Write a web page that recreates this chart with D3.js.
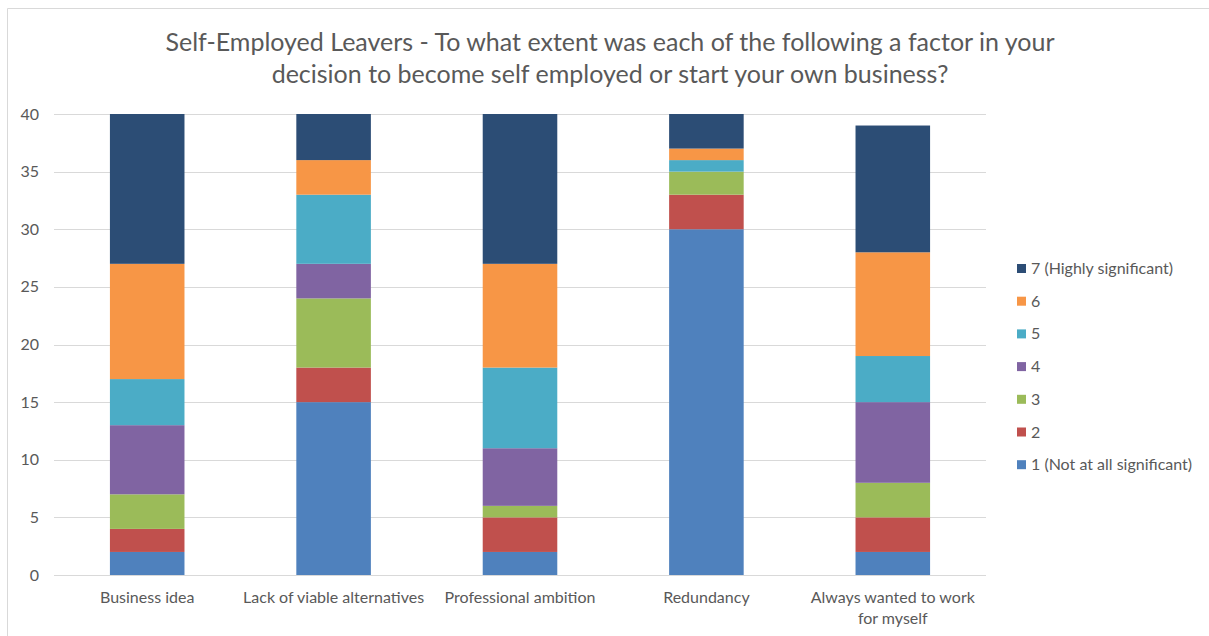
<!DOCTYPE html>
<html>
<head>
<meta charset="utf-8">
<script src="https://cdn.jsdelivr.net/npm/d3@7"></script>
<style>
  body { margin: 0; background: #fff; }
  text { font-family: Lato, "Open Sans", sans-serif; fill: #595959; }
</style>
</head>
<body>
<script>
// data
var categories = ["Business idea", "Lack of viable alternatives", "Professional ambition", "Redundancy", "Always wanted to work for myself"];
var seriesNames = ["1 (Not at all significant)", "2", "3", "4", "5", "6", "7 (Highly significant)"];
var s1 = [2, 15, 2, 30, 2];
var s2 = [2, 3, 3, 3, 3];
var s3 = [3, 6, 1, 2, 3];
var s4 = [6, 3, 5, 0, 7];
var s5 = [4, 6, 7, 1, 4];
var s6 = [10, 3, 9, 1, 9];
var s7 = [13, 4, 13, 3, 11];
var yTicks = [0, 5, 10, 15, 20, 25, 30, 35, 40];
var colors = ["#4f81bd", "#c0504d", "#9bbb59", "#8064a2", "#4bacc6", "#f79646", "#2c4d75"];

var width = 1209, height = 636;
var svg = d3.select("body").append("svg")
    .attr("width", width)
    .attr("height", height);

// chart border (cropped on right/bottom)
svg.append("path")
    .attr("d", "M7.5," + height + "V8.5H" + width)
    .style("fill", "none")
    .style("stroke", "#d9d9d9");

var all = [s1, s2, s3, s4, s5, s6, s7];
var rows = categories.map(function(c, i) {
  var r = {cat: c};
  seriesNames.forEach(function(s, j) { r[s] = all[j][i]; });
  return r;
});
var stack = d3.stack().keys(seriesNames)(rows);

var x = d3.scaleBand().domain(categories).range([54, 986]).paddingInner(0.6).paddingOuter(0.3);
var y = d3.scaleLinear().domain([0, 40]).range([575, 114]);

// gridlines
svg.append("g").selectAll("line").data(yTicks).enter().append("line")
    .attr("x1", 54).attr("x2", 986)
    .attr("y1", function(d) { return Math.round(y(d)) + 0.5; })
    .attr("y2", function(d) { return Math.round(y(d)) + 0.5; })
    .style("stroke", "#d9d9d9");

// y tick labels
svg.append("g").selectAll("text").data(yTicks).enter().append("text")
    .attr("x", 39).attr("y", function(d) { return y(d) + 5.5; })
    .attr("text-anchor", "end")
    .style("font-size", "16px")
    .text(function(d) { return d; });

// bars
svg.append("g").selectAll("g").data(stack).enter().append("g")
    .style("fill", function(d, i) { return colors[i]; })
  .selectAll("rect").data(function(d) { return d; }).enter().append("rect")
    .attr("x", function(d) { return x(d.data.cat); })
    .attr("width", x.bandwidth())
    .attr("y", function(d) { return y(d[1]); })
    .attr("height", function(d) { return y(d[0]) - y(d[1]); });

// category labels
var catLines = {"Always wanted to work for myself": ["Always wanted to work", "for myself"]};
svg.append("g").selectAll("text").data(categories).enter().append("text")
    .attr("x", function(d) { return x(d) + x.bandwidth() / 2; })
    .attr("y", 603)
    .attr("text-anchor", "middle")
    .style("font-size", "16px")
    .each(function(d) {
      var lines = catLines[d] || [d];
      d3.select(this).selectAll("tspan").data(lines).enter().append("tspan")
        .attr("x", x(d) + x.bandwidth() / 2)
        .attr("dy", function(l, i) { return i ? 21 : 0; })
        .text(function(l) { return l; });
    });

// title
svg.append("text")
    .attr("x", 610).attr("y", 51)
    .attr("text-anchor", "middle")
    .style("font-size", "25px")
    .selectAll("tspan")
    .data(["Self-Employed Leavers - To what extent was each of the following a factor in your",
           "decision to become self employed or start your own business?"])
    .enter().append("tspan")
    .attr("x", 610)
    .attr("dy", function(d, i) { return i ? 32 : 0; })
    .text(function(d) { return d; });

// legend
var legend = svg.append("g").selectAll("g").data(seriesNames.slice().reverse()).enter().append("g")
    .attr("transform", function(d, i) { return "translate(1017," + (268 + i * 32.7) + ")"; });
legend.append("rect")
    .attr("x", 0).attr("y", -4).attr("width", 9).attr("height", 9)
    .style("fill", function(d, i) { return colors[colors.length - 1 - i]; });
legend.append("text")
    .attr("x", 14).attr("y", 6)
    .style("font-size", "16px")
    .text(function(d) { return d; });
</script>
</body>
</html>
